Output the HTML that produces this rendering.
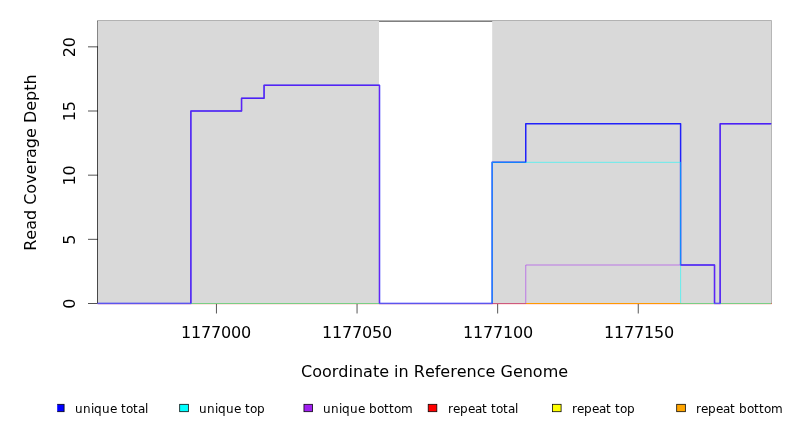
<!DOCTYPE html>
<html lang="en"><head><meta charset="utf-8"><title>Read Coverage Depth</title>
<style>html,body{margin:0;padding:0;background:#fff;}body{width:792px;height:432px;overflow:hidden;}svg{display:block;}text{font-family:"DejaVu Sans", "Liberation Sans", sans-serif;fill:#000;}</style>
</head><body>
<svg width="792" height="432" viewBox="0 0 792 432">
<rect x="0" y="0" width="792" height="432" fill="#ffffff"/>
<defs>
<clipPath id="plot"><rect x="97.5" y="21.0" width="674.3" height="282.9"/></clipPath>
<clipPath id="plot2"><rect x="97.5" y="21.17" width="675.1" height="283.33"/></clipPath>
</defs>
<rect x="97.5" y="21.1" width="674.1" height="282.4" fill="none" stroke="#000" stroke-width="0.8"/>
<g clip-path="url(#plot)">
<rect x="92.5" y="16.17" width="286.5" height="292.33" fill="#d9d9d9"/>
<rect x="492.2" y="16.17" width="284.4" height="292.33" fill="#d9d9d9"/>
</g>
<path d="M97.5 303.5 L97.5 46.84" stroke="#000" stroke-width="0.75" stroke-opacity="0.62" stroke-linecap="round" fill="none"/>
<path d="M88.4 303.5 L97.5 303.5" stroke="#000" stroke-width="0.75" stroke-opacity="0.9" stroke-linecap="round" fill="none"/>
<text transform="translate(74.5 303.8) rotate(-90)" x="-5.0" y="0" font-size="16">0</text>
<path d="M88.4 239.33 L97.5 239.33" stroke="#000" stroke-width="0.75" stroke-opacity="0.9" stroke-linecap="round" fill="none"/>
<text transform="translate(74.5 239.63) rotate(-90)" x="-5.0" y="0" font-size="16">5</text>
<path d="M88.4 175.17 L97.5 175.17" stroke="#000" stroke-width="0.75" stroke-opacity="0.9" stroke-linecap="round" fill="none"/>
<text transform="translate(74.5 175.47) rotate(-90)" x="-10.0 0.0" y="0" font-size="16">10</text>
<path d="M88.4 111.0 L97.5 111.0" stroke="#000" stroke-width="0.75" stroke-opacity="0.9" stroke-linecap="round" fill="none"/>
<text transform="translate(74.5 111.3) rotate(-90)" x="-10.0 0.0" y="0" font-size="16">15</text>
<path d="M88.4 46.84 L97.5 46.84" stroke="#000" stroke-width="0.75" stroke-opacity="0.9" stroke-linecap="round" fill="none"/>
<text transform="translate(74.5 47.14) rotate(-90)" x="-10.0 0.0" y="0" font-size="16">20</text>
<path d="M216.45 303.5 L216.45 313.1" stroke="#000" stroke-width="0.75" stroke-opacity="0.88" stroke-linecap="round" fill="none"/>
<text x="181 191 201 211 221 231 241" y="338" font-size="16">1177000</text>
<path d="M357.05 303.5 L357.05 313.1" stroke="#000" stroke-width="0.75" stroke-opacity="0.88" stroke-linecap="round" fill="none"/>
<text x="322 332 342 352 362 372 382" y="338" font-size="16">1177050</text>
<path d="M497.65 303.5 L497.65 313.1" stroke="#000" stroke-width="0.75" stroke-opacity="0.88" stroke-linecap="round" fill="none"/>
<text x="463 473 483 493 503 513 523" y="338" font-size="16">1177100</text>
<path d="M638.25 303.5 L638.25 313.1" stroke="#000" stroke-width="0.75" stroke-opacity="0.88" stroke-linecap="round" fill="none"/>
<text x="604 614 624 634 644 654 664" y="338" font-size="16">1177150</text>
<text x="301.01 312.18 321.97 331.76 338.34 348.5 352.94 363.08 372.89 379.16 389.0 394.09 398.53 408.68 413.76 424.88 434.72 440.35 450.2 456.78 466.62 476.76 485.56 495.4 500.49 512.89 522.73 532.87 542.66 558.25" y="376.6" font-size="16">Coordinate in Reference Genome</text>
<text transform="translate(36.0 162.6) rotate(-90)" x="-88.24 -77.12 -67.28 -57.48 -47.32 -42.23 -31.06 -21.27 -11.8 -1.96 4.62 14.42 24.58 34.42 39.51 51.83 61.67 71.83 78.1" y="0" font-size="16">Read Coverage Depth</text>
<g clip-path="url(#plot2)">
<path d="M97.5 304.25 L771.2 304.25" fill="none" stroke="#ff0000" stroke-width="0.5" stroke-linejoin="round" stroke-linecap="round" stroke-opacity="0.6"/>
<path d="M97.5 303.5 L771.05 303.5" fill="none" stroke="#ff0000" stroke-width="1.0" stroke-linejoin="round" stroke-linecap="round" stroke-opacity="1"/>
<path d="M97.5 303.5 L770.7 303.5" fill="none" stroke="#ffff00" stroke-width="1.0" stroke-linejoin="round" stroke-linecap="round" stroke-opacity="0.5"/>
<path d="M97.5 303.5 L770.7 303.5" fill="none" stroke="#ffa500" stroke-width="1.0" stroke-linejoin="round" stroke-linecap="round" stroke-opacity="0.7"/>
<path d="M97.5 303.5 L190.87 303.5 L190.87 111.0 L241.55 111.0 L241.55 98.17 L264.07 98.17 L264.07 85.34 L379.5 85.34 L379.5 303.5 L492.11 303.5 L492.11 162.34 L525.75 162.34 L525.75 123.84 L680.6 123.84 L680.6 265.0 L714.52 265.0 L714.52 303.5 L720.15 303.5 L720.15 123.84 L770.7 123.84" fill="none" stroke="#0000ff" stroke-width="1.5" stroke-linejoin="round" stroke-linecap="round" stroke-opacity="0.85"/>
<path d="M97.5 303.5 L492.11 303.5 L492.11 162.34 L680.6 162.34 L680.6 303.5 L770.7 303.5" fill="none" stroke="#00ffff" stroke-width="0.75" stroke-linejoin="round" stroke-linecap="round" stroke-opacity="0.7"/>
<path d="M97.5 303.5 L190.87 303.5 L190.87 111.0 L241.55 111.0 L241.55 98.17 L264.07 98.17 L264.07 85.34 L379.5 85.34 L379.5 303.5 L525.75 303.5 L525.75 265.0 L714.52 265.0 L714.52 303.5 L720.15 303.5 L720.15 123.84 L770.7 123.84" fill="none" stroke="#a020f0" stroke-width="0.75" stroke-linejoin="round" stroke-linecap="round" stroke-opacity="0.7"/>
</g>
<clipPath id="lc"><rect x="57.2" y="400" width="20" height="20"/></clipPath>
<rect x="55.45" y="404.3" width="8.65" height="7.4" fill="#0000ff" stroke="#000" stroke-width="0.75" clip-path="url(#lc)"/>
<text x="75 83 91 94 102 110 117 121 126 133 138 145" y="412.5" font-size="12">unique total</text>
<rect x="179.7" y="404.3" width="8.65" height="7.4" fill="#00ffff" stroke="#000" stroke-width="0.75"/>
<text x="199 207 215 218 226 234 241 245 250 257" y="412.5" font-size="12">unique top</text>
<rect x="303.95" y="404.3" width="8.65" height="7.4" fill="#a020f0" stroke="#000" stroke-width="0.75"/>
<text x="323 331 339 342 350 358 365 369 377 384 389 394 401" y="412.5" font-size="12">unique bottom</text>
<rect x="428.2" y="404.3" width="8.65" height="7.4" fill="#ff0000" stroke="#000" stroke-width="0.75"/>
<text x="448 453 460 468 475 482 487 491 496 503 508 515" y="412.5" font-size="12">repeat total</text>
<rect x="552.45" y="404.3" width="8.65" height="7.4" fill="#ffff00" stroke="#000" stroke-width="0.75"/>
<text x="572 577 584 592 599 606 611 615 620 627" y="412.5" font-size="12">repeat top</text>
<rect x="676.7" y="404.3" width="8.65" height="7.4" fill="#ffa500" stroke="#000" stroke-width="0.75"/>
<text x="696 701 708 716 723 730 735 739 747 754 759 764 771" y="412.5" font-size="12">repeat bottom</text>
</svg>
</body></html>
